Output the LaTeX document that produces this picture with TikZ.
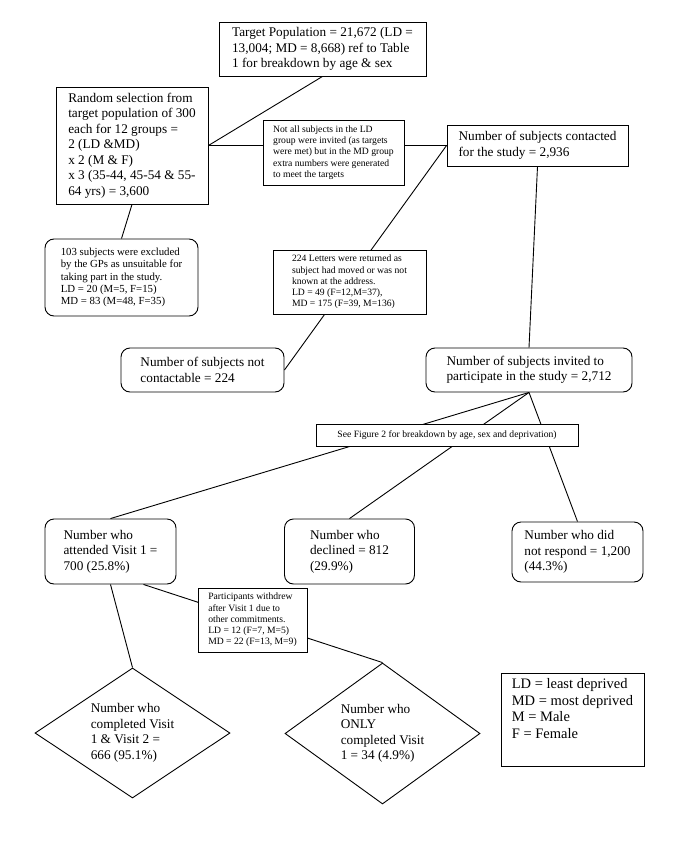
\documentclass[tikz,border=0pt]{standalone}
\usepackage{fontspec}
\setmainfont{Liberation Serif}
\usepackage{tikz}
\usetikzlibrary{shapes.geometric}

\tikzset{
  plainbox/.style={draw, fill=white, align=left, inner sep=3pt,
    font=\fontsize{13.25}{15.5}\selectfont},
  roundbox/.style={plainbox, rounded corners=9pt},
  notebox/.style={draw, fill=white, align=left, inner sep=3pt,
    font=\fontsize{9.65}{11.2}\selectfont},
  decision/.style={draw, fill=white, diamond, aspect=1.5, inner sep=0pt, align=left,
    font=\fontsize{13.25}{15.5}\selectfont}
}

\begin{document}
\begin{tikzpicture}[x=10pt, y=-10pt, line width=0.9pt]
  \useasboundingbox (0,0) rectangle (68.5,85.6);

  \node[plainbox, minimum width=207pt, minimum height=54pt] (target) at (32.25,4.9)
    {Target Population = 21,672 (LD =\\13,004; MD = 8,668) ref to Table\\1 for breakdown by age \& sex};
  \node[plainbox, minimum width=152pt, minimum height=117pt] (random) at (13.2,14.55)
    {Random selection from\\target population of 300\\each for 12 groups =\\2 (LD \&MD)\\x 2 (M \& F)\\x 3 (35-44, 45-54 \& 55-\\64 yrs) = 3,600};
  \node[plainbox, minimum width=181pt, minimum height=41pt] (contacted) at (53.75,14.55)
    {Number of subjects contacted\\for the study = 2,936};
  \node[roundbox, minimum width=153pt, minimum height=77pt,
    font=\fontsize{10.8}{12.2}\selectfont] (excluded) at (12.15,27.75)
    {103 subjects were excluded\\by the GPs as unsuitable for\\taking part in the study.\\LD = 20 (M=5, F=15)\\MD = 83 (M=48, F=35)};
  \node[roundbox, minimum width=163pt, minimum height=44pt] (notcontact) at (20.25,37)
    {Number of subjects not\\contactable = 224};
  \node[roundbox, minimum width=206pt, minimum height=44pt] (invited) at (52.9,37)
    {Number of subjects invited to\\participate in the study = 2,712};

  \node[roundbox, minimum width=131pt, minimum height=65pt] (attended) at (11.05,55.15)
    {Number who\\attended Visit 1 =\\700 (25.8\%)};
  \node[roundbox, minimum width=130pt, minimum height=65pt] (declined) at (34.95,55.15)
    {Number who\\declined = 812\\(29.9\%)};
  \node[roundbox, minimum width=131pt, minimum height=60pt] (noresp) at (57.75,55.2)
    {Number who did\\not respond = 1,200\\(44.3\%)};

  \node[decision, minimum width=195pt, minimum height=130pt] (both) at (13.25,73.3)
    {Number who\\completed Visit\\1 \& Visit 2 =\\666 (95.1\%)};
  \node[decision, minimum width=195pt, minimum height=141pt] (only) at (38.25,73.35)
    {Number who\\ONLY\\completed Visit\\1 = 34 (4.9\%)};

  \node[plainbox, anchor=north, minimum width=143pt, inner sep=5pt,
    font=\fontsize{14.5}{16.7}\selectfont] (legend) at (57.25,67.3)
    {LD = least deprived\\MD = most deprived\\M = Male\\F = Female\\[6pt]\mbox{}};

  % links
  \draw (target.south) -- (random.east);
  \draw (random.east) -- (contacted.west);
  \draw (random.south) -- (excluded.north);
  \draw (contacted.west) -- (notcontact.east);
  \draw (contacted.south) -- (invited.north);
  \draw (invited.south) -- (attended.north);
  \draw (invited.south) -- (declined.north);
  \draw (invited.south) -- (noresp.north);
  \draw (attended.south) -- (both.north);
  \draw (attended.-45) -- (only.north);

  % notes lie on top of the links
  \node[notebox, minimum width=141pt, minimum height=65pt] (notall) at (33.35,15.25)
    {Not all subjects in the LD\\group were invited (as targets\\were met) but in the MD group\\extra numbers were generated\\to meet the targets};
  \node[notebox, minimum width=153pt, minimum height=64pt] (letters) at (34.95,28.2)
    {224 Letters were returned as\\subject had moved or was not\\known at the address.\\LD = 49 (F=12,M=37),\\MD = 175 (F=39, M=136)};
  \node[notebox, align=center, minimum width=262pt, minimum height=22pt] (seefig) at (44.7,43.5)
    {See Figure 2 for breakdown by age, sex and deprivation)};
  \node[notebox, minimum width=109pt, minimum height=64pt] (withdrew) at (25.25,62)
    {Participants withdrew\\after Visit 1 due to\\other commitments.\\LD = 12 (F=7, M=5)\\MD = 22 (F=13, M=9)};
\end{tikzpicture}
\end{document}
